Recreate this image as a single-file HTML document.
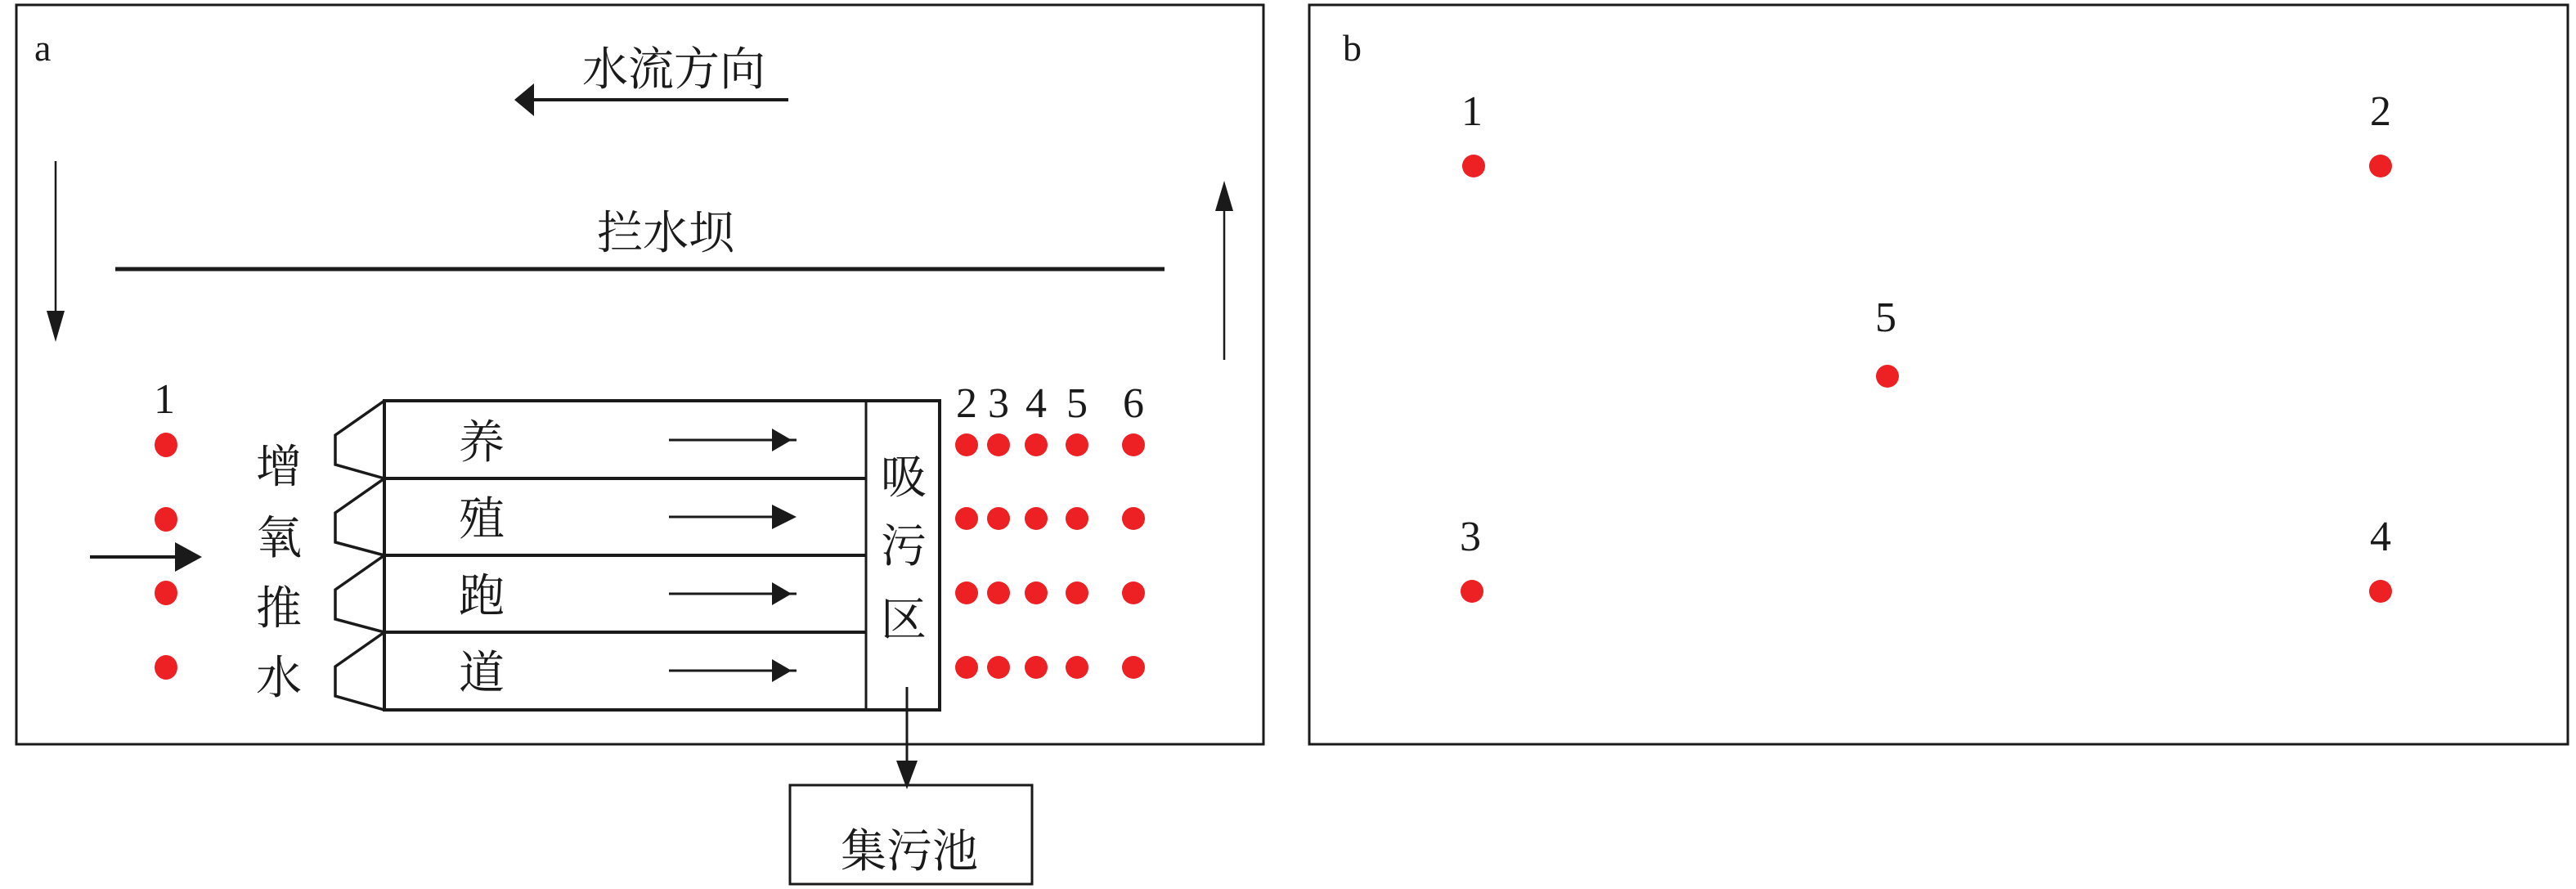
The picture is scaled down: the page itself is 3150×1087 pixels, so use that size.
<!DOCTYPE html>
<html><head><meta charset="utf-8"><style>
html,body{margin:0;padding:0;background:#fff;}
svg{display:block;}
text{font-family:"Liberation Serif","Noto Serif CJK SC",serif;fill:#1a1a1a;}
</style></head><body>
<svg width="3150" height="1087" viewBox="0 0 3150 1087" xmlns="http://www.w3.org/2000/svg">
<g stroke="#1a1a1a" fill="none">
<rect x="20" y="6" width="1525" height="904" stroke-width="3"/>
<rect x="1601" y="6" width="1539" height="904" stroke-width="3"/>
<line x1="964" y1="122" x2="640" y2="122" stroke-width="4"/>
<line x1="141" y1="329" x2="1424" y2="329" stroke-width="5"/>
<line x1="68" y1="197" x2="68" y2="390" stroke-width="2.5"/>
<line x1="1497" y1="440" x2="1497" y2="245" stroke-width="2.5"/>
<line x1="110" y1="681" x2="222" y2="681" stroke-width="4"/>
<rect x="470" y="490" width="679" height="378" stroke-width="4"/>
<line x1="1059" y1="490" x2="1059" y2="868" stroke-width="3"/>
<line x1="470" y1="585" x2="1059" y2="585" stroke-width="4"/>
<line x1="470" y1="679" x2="1059" y2="679" stroke-width="4"/>
<line x1="470" y1="773" x2="1059" y2="773" stroke-width="4"/>
<polyline points="470,490 410,532 410,568 470,585 410,627 410,663 470,679 410,721 410,757 470,773 410,815 410,851 470,868" stroke-width="3.5"/>
<line x1="818" y1="538" x2="974" y2="538" stroke-width="3"/>
<line x1="818" y1="632" x2="960" y2="632" stroke-width="3"/>
<line x1="818" y1="726" x2="974" y2="726" stroke-width="3"/>
<line x1="818" y1="820" x2="974" y2="820" stroke-width="3"/>
<line x1="1109" y1="840" x2="1109" y2="935" stroke-width="3"/>
<rect x="966" y="960" width="296" height="121" stroke-width="3"/>
</g>
<g fill="#1a1a1a">
<polygon points="629,122 653,102 653,142"/>
<polygon points="68,418 57,380 79,380"/>
<polygon points="1497,221 1486,258 1508,258"/>
<polygon points="247,681 214,663 214,699"/>
<polygon points="968,538 944,524 944,552"/>
<polygon points="974,632 944,617 944,647"/>
<polygon points="968,726 944,712 944,740"/>
<polygon points="968,820 944,806 944,834"/>
<polygon points="1109,965 1096,930 1122,930"/>
</g>
<g fill="#ed2024">
<ellipse cx="203" cy="544" rx="14" ry="15"/>
<ellipse cx="203" cy="635" rx="14" ry="15"/>
<ellipse cx="203" cy="725" rx="14" ry="15"/>
<ellipse cx="203" cy="816" rx="14" ry="15"/>
<g id="col">
<circle cx="1182" cy="544" r="14"/><circle cx="1182" cy="634" r="14"/><circle cx="1182" cy="725" r="14"/><circle cx="1182" cy="816" r="14"/>
</g>
<use href="#col" x="39"/><use href="#col" x="85"/><use href="#col" x="135"/><use href="#col" x="204"/>
<circle cx="1802" cy="203" r="14"/><circle cx="2911" cy="203" r="14"/><circle cx="2308" cy="460" r="14"/>
<circle cx="1800" cy="723" r="14"/><circle cx="2911" cy="723" r="14"/>
</g>
<g font-size="46">
<text x="42" y="74">a</text>
<text x="1642" y="74">b</text>
</g>
<g font-size="52" text-anchor="middle">
<text x="201" y="505">1</text>
<text x="1182" y="510">2</text><text x="1221" y="510">3</text><text x="1267" y="510">4</text><text x="1317" y="510">5</text><text x="1386" y="510">6</text>
<text x="1800" y="153">1</text><text x="2911" y="153">2</text><text x="2306" y="405">5</text>
<text x="1798" y="673">3</text><text x="2911" y="673">4</text>
</g>
<g font-size="56" text-anchor="middle">
<text x="824" y="104">水流方向</text>
<text x="814" y="304">拦水坝</text>
<text x="341" y="590">增</text><text x="341" y="677">氧</text><text x="341" y="763">推</text><text x="341" y="848">水</text>
<text x="589" y="560">养</text><text x="589" y="654">殖</text><text x="589" y="748">跑</text><text x="589" y="842">道</text>
<text x="1105" y="603">吸</text><text x="1105" y="687">污</text><text x="1105" y="777">区</text>
<text x="1112" y="1060">集污池</text>
</g>
</svg>
</body></html>
